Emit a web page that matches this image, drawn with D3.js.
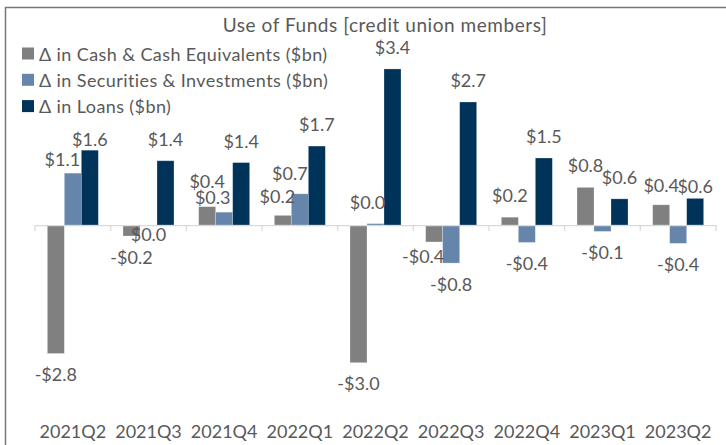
<!DOCTYPE html>
<html>
<head>
<meta charset="utf-8">
<script src="https://cdn.jsdelivr.net/npm/d3@7"></script>
<style>
  html, body { margin: 0; padding: 0; background: #fff; }
  svg { display: block; }
  text { font-family: Lato, "Open Sans", sans-serif; }
</style>
</head>
<body>
<svg id="chart" width="726" height="445"></svg>
<script>
// ---- data ----
const title = "Use of Funds [credit union members]";
const categories = ["2021Q2","2021Q3","2021Q4","2022Q1","2022Q2","2022Q3","2022Q4","2023Q1","2023Q2"];
const seriesNames = ["Δ in Cash & Cash Equivalents ($bn)", "Δ in Securities & Investments ($bn)", "Δ in Loans ($bn)"];
const cashValues = [-2.80, -0.24, 0.40, 0.21, -3.00, -0.37, 0.17, 0.82, 0.44];
const securitiesValues = [1.13, -0.02, 0.28, 0.68, 0.03, -0.83, -0.38, -0.14, -0.40];
const loansValues = [1.63, 1.40, 1.36, 1.72, 3.40, 2.68, 1.46, 0.57, 0.58];

// ---- style / layout ----
const colors = ["#808080", "#6585ab", "#00335a"];
const textColor = "#595959";
const W = 726, H = 445;
const plot = { left: 35, right: 716 };
const zeroY = 225, pxPerUnit = 45.9;

// manual label nudges (as in the reference, some labels were moved to avoid overlap)
const labelNudge = {
  "0-2021Q4": [0, -4], "1-2021Q2": [-10.5, 7.5], "2-2021Q2": [0, 11],
  "1-2021Q3": [0, -12], "1-2021Q4": [-11.5, 6.5], "0-2022Q1": [-5.5, 3],
  "1-2022Q1": [-10, 1.5], "1-2022Q2": [-8, 0], "0-2022Q3": [-11, -6],
  "2-2023Q2": [0, 10], "0-2023Q2": [0, 2]
};

const series = [cashValues, securitiesValues, loansValues];
const rows = [];
series.forEach((vals, si) => vals.forEach((v, ci) => rows.push({ si, cat: categories[ci], v })));

const svg = d3.select("#chart");

const x = d3.scaleBand().domain(categories).range([plot.left, plot.right]).paddingInner(0).paddingOuter(0);
const bw = x.bandwidth();
const barW = 17;
const xs = d3.scaleBand().domain([0, 1, 2]).range([(bw - 3 * barW) / 2, (bw + 3 * barW) / 2]);
const y = d3.scaleLinear().domain([-4, 4]).range([zeroY + 4 * pxPerUnit, zeroY - 4 * pxPerUnit]);

// frame
svg.append("line").attr("x1", 5).attr("x2", W).attr("y1", 7.5).attr("y2", 7.5)
  .attr("stroke", "#767676").attr("stroke-width", 1.5);
svg.append("line").attr("x1", 5.5).attr("x2", 5.5).attr("y1", 7).attr("y2", H)
  .attr("stroke", "#767676").attr("stroke-width", 1.5);

// title
svg.append("text").attr("x", 385).attr("y", 32).attr("text-anchor", "middle")
  .attr("font-size", 19).attr("letter-spacing", 0.55).attr("fill", textColor).text(title);

// legend
const lg = svg.append("g");
seriesNames.forEach((name, i) => {
  const ty = 47.5 + i * 26.3;
  lg.append("rect").attr("x", 22).attr("y", ty).attr("width", 12).attr("height", 12).attr("fill", colors[i]);
  lg.append("text").attr("x", 39).attr("y", ty + 13).attr("font-size", 18).attr("letter-spacing", 0.4)
    .attr("fill", textColor).text(name);
});

// bars
svg.append("g").selectAll("rect").data(rows).join("rect")
  .attr("x", d => x(d.cat) + xs(d.si))
  .attr("width", xs.bandwidth())
  .attr("y", d => Math.min(y(d.v), y(0)))
  .attr("height", d => Math.abs(y(d.v) - y(0)))
  .attr("fill", d => colors[d.si])
  .attr("stroke", "#ffffff").attr("stroke-opacity", 0.35).attr("stroke-width", 0.75);

// axis
const axis = d3.axisBottom(x).tickSize(0).tickFormat("");
const ag = svg.append("g").attr("transform", `translate(0,${y(0)})`).call(axis);
ag.select(".domain").attr("stroke", "#d9d9d9").attr("stroke-width", 1.25);
const bounds = categories.map(c => x(c)).concat([x(categories[categories.length - 1]) + bw]);
ag.selectAll(".bnd").data(bounds).join("line").attr("class", "bnd")
  .attr("x1", d => d).attr("x2", d => d).attr("y1", 0).attr("y2", 6)
  .attr("stroke", "#d9d9d9").attr("stroke-width", 1.25);

// category labels
svg.append("g").selectAll("text").data(categories).join("text")
  .attr("x", d => x(d) + bw / 2).attr("y", 438).attr("text-anchor", "middle")
  .attr("font-size", 18).attr("fill", textColor).text(d => d);

// data labels
const fmt = v => (Math.abs(v) < 0.05 ? "" : (v < 0 ? "-" : "")) + "$" + Math.abs(v).toFixed(1);
svg.append("g").selectAll("text").data(rows).join("text")
  .attr("x", d => x(d.cat) + xs(d.si) + xs.bandwidth() / 2 + (labelNudge[d.si + "-" + d.cat] || [0, 0])[0])
  .attr("y", d => (d.v >= 0 ? y(d.v) - 15 : y(d.v) + 27.5) + (labelNudge[d.si + "-" + d.cat] || [0, 0])[1])
  .attr("text-anchor", "middle").attr("font-size", 18).attr("fill", textColor)
  .text(d => fmt(d.v));
</script>
</body>
</html>
